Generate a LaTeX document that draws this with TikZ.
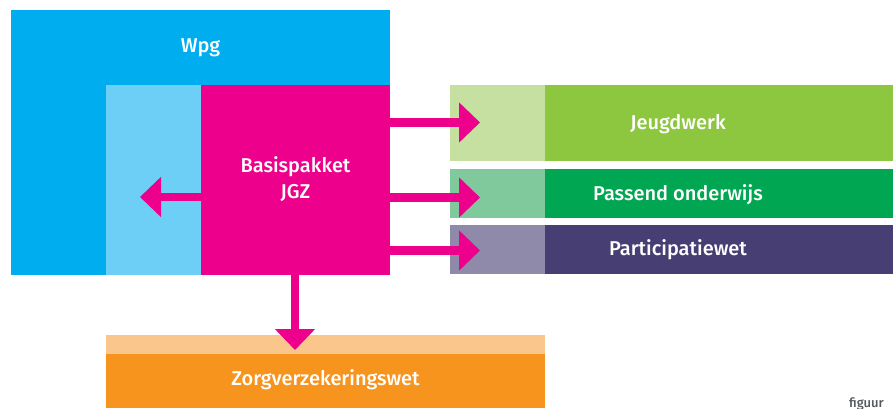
\documentclass[tikz,border=0pt]{standalone}
\usepackage{fontspec}
\setmainfont{Fira Sans}[UprightFont={* Medium}]
\usetikzlibrary{arrows.meta}
\definecolor{wpgblue}{HTML}{00AEEF}
\definecolor{lightblue}{HTML}{6DCFF6}
\definecolor{jgzmag}{HTML}{EC008C}
\definecolor{jwlight}{HTML}{C5E0A0}
\definecolor{jwdark}{HTML}{8DC63F}
\definecolor{polight}{HTML}{80C99C}
\definecolor{podark}{HTML}{00A651}
\definecolor{pwlight}{HTML}{8F8AAA}
\definecolor{pwdark}{HTML}{473F73}
\definecolor{zvlight}{HTML}{FBC68B}
\definecolor{zvdark}{HTML}{F7941E}
\definecolor{figgray}{HTML}{555A60}
\begin{document}
\begin{tikzpicture}[x=1pt,y=-1pt,
  box/.style={draw=none,inner sep=0pt,outer sep=0pt,anchor=north west},
  lbl/.style={text=white,font=\fontsize{20}{26}\selectfont,anchor=base,inner sep=0pt,align=center},
  arr/.style={draw=jgzmag,line width=8.5pt,-{Triangle[length=21pt,width=39pt]}}]
\useasboundingbox (0,0) rectangle (894,409);
% Wpg
\node[box,fill=wpgblue,minimum width=379pt,minimum height=265pt] (wpg) at (11,10) {};
\node[box,fill=lightblue,minimum width=95pt,minimum height=190pt] (lb) at (106,85) {};
\node[box,fill=jgzmag,minimum width=189pt,minimum height=190pt] (basis) at (201,85) {};
% right bars
\node[box,fill=jwlight,minimum width=95pt,minimum height=76pt] (jwl) at (450,85) {};
\node[box,fill=jwdark,minimum width=348pt,minimum height=76pt] (jwd) at (545,85) {};
\node[box,fill=polight,minimum width=95pt,minimum height=49pt] (pol) at (450,169) {};
\node[box,fill=podark,minimum width=348pt,minimum height=49pt] (pod) at (545,169) {};
\node[box,fill=pwlight,minimum width=95pt,minimum height=49pt] (pwl) at (450,225) {};
\node[box,fill=pwdark,minimum width=348pt,minimum height=49pt] (pwd) at (545,225) {};
% bottom bar
\node[box,fill=zvlight,minimum width=439pt,minimum height=19pt] (zvl) at (106,335) {};
\node[box,fill=zvdark,minimum width=439pt,minimum height=54pt] (zvd) at (106,354) {};
% labels
\node[lbl] (twpg) at (200.5,52.7) {Wpg};
\node[lbl] (tbasis) at (295.5,198.3) {Basispakket\\JGZ};
\node[lbl] (tjw) at (678,130) {Jeugdwerk};
\node[lbl] (tpo) at (678,200) {Passend onderwijs};
\node[lbl] (tpw) at (678,255.7) {Participatiewet};
\node[lbl] (tzv) at (325.5,385.7) {Zorgverzekeringswet};
\node[anchor=base west,inner sep=0pt,text=figgray,font=\fontsize{13}{15}\selectfont] (fig) at (849,407.5) {figuur};
% arrow tips
\coordinate (tipjw) at (480,122.5);
\coordinate (tippo) at (480,197.5);
\coordinate (tippw) at (480,250.5);
\coordinate (tiplb) at (140,197);
\coordinate (tipzv) at (295,350);
\draw[arr] (basis.east |- tipjw) -- (tipjw);
\draw[arr] (basis.east |- tippo) -- (tippo);
\draw[arr] (basis.east |- tippw) -- (tippw);
\draw[arr] (basis.west |- tiplb) -- (tiplb);
\draw[arr] (basis.south -| tipzv) -- (tipzv);
\end{tikzpicture}
\end{document}
